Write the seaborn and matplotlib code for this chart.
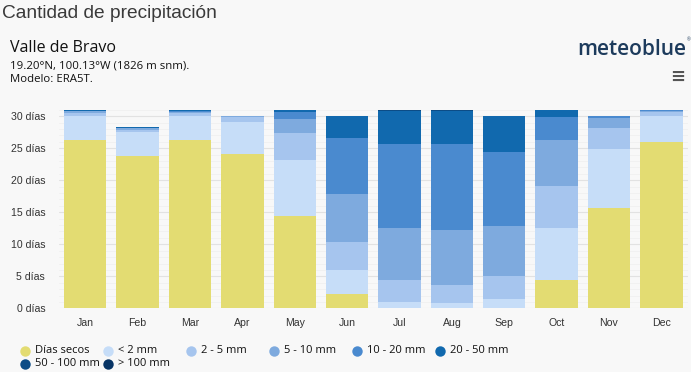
import numpy as np
import pandas as pd
import matplotlib
matplotlib.use("Agg")
import matplotlib.pyplot as plt
import seaborn as sns
from matplotlib.lines import Line2D

MONTHS = ["Jan", "Feb", "Mar", "Apr", "May", "Jun",
          "Jul", "Aug", "Sep", "Oct", "Nov", "Dec"]

DRY = [26.3, 23.8, 26.2, 24.1, 14.4, 2.2, 0.0, 0.0, 0.1, 4.4, 15.7, 25.9]
LT2 = [3.75, 3.75, 3.85, 5.0, 8.7, 3.8, 1.0, 0.9, 1.4, 8.1, 9.1, 4.1]
MM2_5 = [0.45, 0.35, 0.45, 0.75, 4.2, 4.4, 3.4, 2.8, 3.5, 6.6, 3.4, 0.6]
MM5_10 = [0.25, 0.2, 0.2, 0.15, 2.2, 7.4, 8.2, 8.5, 7.9, 7.1, 1.5, 0.25]
MM10_20 = [0.1, 0.1, 0.1, 0.0, 1.2, 8.8, 13.1, 13.5, 11.5, 3.7, 0.3, 0.15]
MM20_50 = [0.15, 0.05, 0.2, 0.0, 0.3, 3.4, 5.1, 5.1, 5.6, 1.1, 0.0, 0.0]
MM50_100 = [0.0, 0.0, 0.0, 0.0, 0.0, 0.0, 0.2, 0.2, 0.0, 0.0, 0.0, 0.0]
GT100 = [0.0] * 12

LABELS = ["Días secos", "< 2 mm", "2 - 5 mm", "5 - 10 mm",
          "10 - 20 mm", "20 - 50 mm", "50 - 100 mm", "> 100 mm"]
COLORS = ["#e3dc72", "#c6ddf8", "#a6c5ee", "#7eaade",
          "#4a8acf", "#1169ae", "#0c4c86", "#073465"]
SERIES = [DRY, LT2, MM2_5, MM5_10, MM10_20, MM20_50, MM50_100, GT100]

BG = "#f8f8f8"
TEXT = "#333333"
SANS = ["Open Sans", "DejaVu Sans"]

sns.set_style("white")
plt.rcParams["font.family"] = ["Liberation Sans", "DejaVu Sans"]

fig = plt.figure(figsize=(6.91, 3.72), dpi=100, facecolor=BG)
ax = fig.add_axes([0.0855, 0.171, 0.9095, 0.535])
ax.set_facecolor(BG)

bottom = np.zeros(len(MONTHS))
for vals, color in zip(SERIES, COLORS):
    df = pd.DataFrame({"month": MONTHS, "days": vals})
    sns.barplot(data=df, x="month", y="days", color=color, width=0.81,
                bottom=bottom, linewidth=0, saturation=1, ax=ax)
    bottom = bottom + np.array(vals)

ax.set_ylim(0, 31.05)
ax.set_xlim(-0.5, 11.5)
ax.set_yticks(range(0, 31, 5))
ax.set_yticklabels([f"{v} días" for v in range(0, 31, 5)])
ax.set_yticks(range(0, 32), minor=True)
ax.grid(axis="y", which="major", color="#e2e2e2", linewidth=0.8)
ax.grid(axis="y", which="minor", color="#eeeeee", linewidth=0.5)
ax.set_axisbelow(True)
ax.set_xlabel("")
ax.set_ylabel("")
for s in ax.spines.values():
    s.set_visible(False)
ax.tick_params(axis="both", which="both", length=0, labelsize=7.6, colors=TEXT)
ax.tick_params(axis="x", pad=7)
ax.tick_params(axis="y", pad=10)

# header texts
fig.text(0.003, 1 - 18.5 / 372, "Cantidad de precipitación", fontsize=13.8,
         color="#3a3a3a", ha="left", va="baseline")
fig.text(0.015, 1 - 52 / 372, "Valle de Bravo", fontsize=11.5,
         color="#111111", family=SANS, va="baseline")
fig.text(0.015, 1 - 68 / 372, "19.20°N, 100.13°W (1826 m snm).", fontsize=8.2,
         color="#111111", family=SANS, va="baseline")
fig.text(0.015, 1 - 82 / 372, "Modelo: ERA5T.", fontsize=8.2,
         color="#111111", family=SANS, va="baseline")
fig.text(0.9925, 1 - 55 / 372, "meteoblue", fontsize=15, color="#1d3b5c",
         family=SANS, fontweight="semibold", ha="right", va="baseline")
fig.text(0.9995, 1 - 41 / 372, "®", fontsize=3.5, color="#1d3b5c", ha="right")
fig.text(0.992, 1 - 77 / 372, "≡", fontsize=13, color="#555555",
         family="DejaVu Sans", ha="right", va="center", fontweight="bold")

# legend, laid out in rows like the original
for i, (label, color) in enumerate(zip(LABELS, COLORS)):
    row, col = divmod(i, 6)
    x = (25 + col * 83) / 691
    y = 1 - (350.5 + row * 13.5) / 372
    fig.add_artist(Line2D([x], [y], marker="o", markersize=7.5, color=color,
                          markeredgewidth=0, transform=fig.transFigure))
    fig.text(x + 10 / 691, y, label, fontsize=8, color="#111111",
             family=SANS, va="center")

fig.savefig("out.png", dpi=100, facecolor=BG)
